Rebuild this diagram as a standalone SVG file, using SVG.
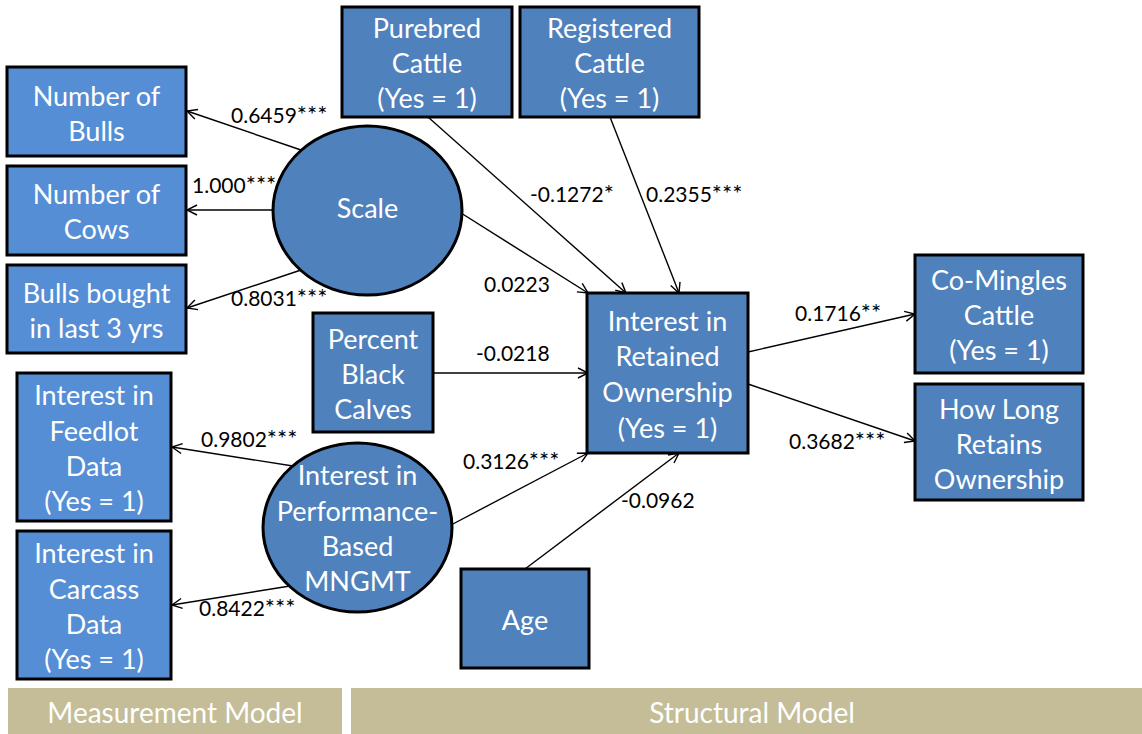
<svg xmlns="http://www.w3.org/2000/svg" width="1142" height="734" viewBox="0 0 1142 734">
<style>
.n{fill:#4F81BD;stroke:#000;stroke-width:3}
.m{fill:#558ED5;stroke:#000;stroke-width:3}
.t{font-family:Lato,"Liberation Sans",sans-serif;font-size:27px;fill:#fff;text-anchor:middle}
.e{stroke:#000;stroke-width:1.4;fill:none;marker-end:url(#a)}
.l{font-family:Lato,"Liberation Sans",sans-serif;font-size:21px;fill:#000}
.s{font-size:24px}
.bar{fill:#C4BD97}
.bt{font-family:Lato,"Liberation Sans",sans-serif;font-size:28px;fill:#fff;text-anchor:middle}
</style>
<defs>
<marker id="a" viewBox="0 0 12 12" refX="11" refY="6" markerWidth="12" markerHeight="12" orient="auto" markerUnits="userSpaceOnUse">
<path d="M1,1 L11,6 L1,11" fill="none" stroke="#000" stroke-width="1.4"/>
</marker>
</defs>
<rect width="1142" height="734" fill="#fff"/>

<g id="connectors">
<line class="e" x1="301" y1="150" x2="187" y2="111"/>
<line class="e" x1="273" y1="210" x2="187" y2="210"/>
<line class="e" x1="301" y1="270" x2="187" y2="308"/>
<line class="e" x1="461" y1="213" x2="588" y2="293"/>
<line class="e" x1="428" y1="117" x2="626" y2="293"/>
<line class="e" x1="610" y1="117" x2="679" y2="293"/>
<line class="e" x1="433" y1="373" x2="588" y2="373"/>
<line class="e" x1="451" y1="525" x2="588" y2="453"/>
<line class="e" x1="525" y1="569" x2="679" y2="453"/>
<line class="e" x1="748" y1="352" x2="915" y2="314"/>
<line class="e" x1="748" y1="384" x2="915" y2="441"/>
<line class="e" x1="293" y1="466" x2="172" y2="447"/>
<line class="e" x1="290" y1="586" x2="172" y2="605"/>
<text class="l" x="231" y="123">0.6459<tspan class="s">***</tspan></text>
<text class="l" x="192" y="193">1.000<tspan class="s">***</tspan></text>
<text class="l" x="231" y="306">0.8031<tspan class="s">***</tspan></text>
<text class="l" x="484" y="292">0.0223</text>
<text class="l" x="530" y="202">-0.1272<tspan class="s">*</tspan></text>
<text class="l" x="646" y="202">0.2355<tspan class="s">***</tspan></text>
<text class="l" x="476" y="361">-0.0218</text>
<text class="l" x="463" y="469">0.3126<tspan class="s">***</tspan></text>
<text class="l" x="621" y="508">-0.0962</text>
<text class="l" x="795" y="321">0.1716<tspan class="s">**</tspan></text>
<text class="l" x="789" y="449">0.3682<tspan class="s">***</tspan></text>
<text class="l" x="201" y="447">0.9802<tspan class="s">***</tspan></text>
<text class="l" x="199" y="616">0.8422<tspan class="s">***</tspan></text>
</g>

<g id="bulls"><rect class="m" x="7" y="67" width="179" height="89"/>
<text class="t" x="96.5" y="106">Number of</text><text class="t" x="96.5" y="141">Bulls</text></g>
<g id="cows"><rect class="m" x="7" y="166" width="179" height="89"/>
<text class="t" x="96.5" y="204">Number of</text><text class="t" x="96.5" y="239">Cows</text></g>
<g id="bought"><rect class="m" x="7" y="265" width="179" height="88"/>
<text class="t" x="96.5" y="303">Bulls bought</text><text class="t" x="96.5" y="338">in last 3 yrs</text></g>
<g id="scale"><ellipse class="n" cx="367.5" cy="210.5" rx="94.5" ry="84.5"/>
<text class="t" x="367.5" y="218">Scale</text></g>
<g id="purebred"><rect class="n" x="342" y="7" width="170" height="110"/>
<text class="t" x="427" y="38">Purebred</text><text class="t" x="427" y="73">Cattle</text><text class="t" x="427" y="108">(Yes = 1)</text></g>
<g id="registered"><rect class="n" x="520" y="7" width="179" height="110"/>
<text class="t" x="609.5" y="38">Registered</text><text class="t" x="609.5" y="73">Cattle</text><text class="t" x="609.5" y="108">(Yes = 1)</text></g>
<g id="black"><rect class="n" x="313" y="313" width="120" height="119"/>
<text class="t" x="373" y="349">Percent</text><text class="t" x="373" y="384">Black</text><text class="t" x="373" y="419">Calves</text></g>
<g id="retained"><rect class="n" x="587" y="293" width="161" height="160"/>
<text class="t" x="667.5" y="331">Interest in</text><text class="t" x="667.5" y="366">Retained</text><text class="t" x="667.5" y="402">Ownership</text><text class="t" x="667.5" y="438">(Yes = 1)</text></g>
<g id="comingles"><rect class="n" x="915" y="255" width="168" height="118"/>
<text class="t" x="999" y="290">Co-Mingles</text><text class="t" x="999" y="325">Cattle</text><text class="t" x="999" y="360">(Yes = 1)</text></g>
<g id="howlong"><rect class="n" x="915" y="384" width="168" height="116"/>
<text class="t" x="999" y="419">How Long</text><text class="t" x="999" y="454">Retains</text><text class="t" x="999" y="489">Ownership</text></g>
<g id="feedlot"><rect class="m" x="17" y="373" width="154" height="148"/>
<text class="t" x="94" y="405">Interest in</text><text class="t" x="94" y="441">Feedlot</text><text class="t" x="94" y="476">Data</text><text class="t" x="94" y="511">(Yes = 1)</text></g>
<g id="carcass"><rect class="m" x="17" y="531" width="154" height="148"/>
<text class="t" x="94" y="563">Interest in</text><text class="t" x="94" y="599">Carcass</text><text class="t" x="94" y="634">Data</text><text class="t" x="94" y="669">(Yes = 1)</text></g>
<g id="mngmt"><ellipse class="n" cx="357.5" cy="527.5" rx="94.5" ry="84.5"/>
<text class="t" x="357.5" y="485">Interest in</text><text class="t" x="357.5" y="521">Performance-</text><text class="t" x="357.5" y="556">Based</text><text class="t" x="357.5" y="591">MNGMT</text></g>
<g id="age"><rect class="n" x="461" y="569" width="128" height="99"/>
<text class="t" x="525" y="630">Age</text></g>

<g id="measurement-bar"><rect class="bar" x="8" y="688" width="334" height="46"/>
<text class="bt" x="175" y="723">Measurement Model</text></g>
<g id="structural-bar"><rect class="bar" x="351" y="688" width="791" height="46"/>
<text class="bt" x="752" y="723">Structural Model</text></g>
</svg>
